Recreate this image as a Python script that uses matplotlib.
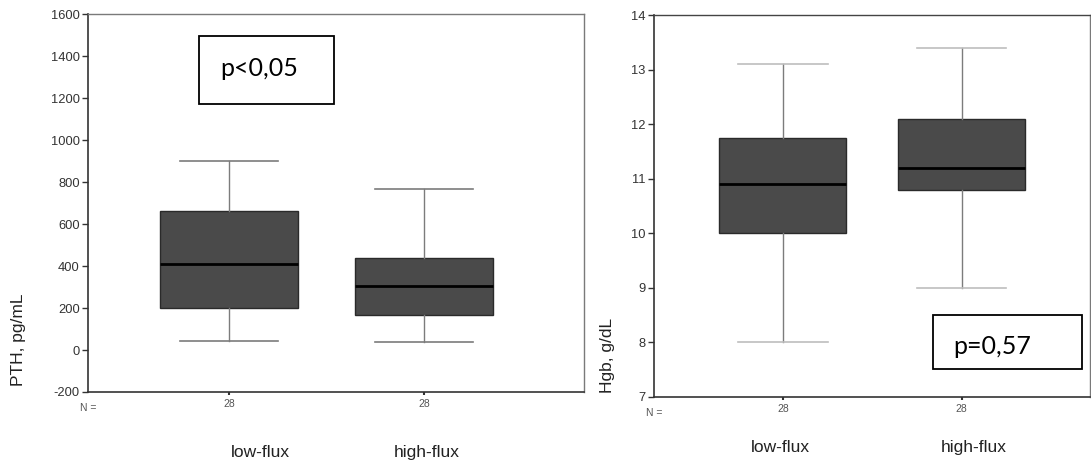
import matplotlib
matplotlib.use("Agg")
import matplotlib.pyplot as plt
from matplotlib.patches import Rectangle

groups = ["low-flux", "high-flux"]
n_counts = [28, 28]

# PTH, pg/mL: whisker low, Q1, median, Q3, whisker high
pth_low = [45, 202, 408, 662, 899]
pth_high = [40, 168, 304, 439, 767]

# Hgb, g/dL
hgb_low = [8.0, 10.0, 10.9, 11.74, 13.11]
hgb_high = [9.0, 10.8, 11.2, 12.1, 13.4]

pth_ticks = [-200, 0, 200, 400, 600, 800, 1000, 1200, 1400, 1600]
hgb_ticks = [7, 8, 9, 10, 11, 12, 13, 14]

TICK_FONT = ["Liberation Sans", "DejaVu Sans"]
BOX_FONT = ["Lato", "DejaVu Sans"]


def stats(vals, label):
    lo, q1, med, q3, hi = vals
    return {"whislo": lo, "q1": q1, "med": med, "q3": q3, "whishi": hi,
            "fliers": [], "label": label}


def draw_panel(ax, rows, ticks, xlim, cap_color):
    ax.bxp([stats(r, str(n)) for r, n in zip(rows, n_counts)],
           positions=[1, 2], widths=0.71, patch_artist=True, showfliers=False,
           boxprops=dict(facecolor="#4a4a4a", edgecolor="#2a2a2a", linewidth=1.0),
           medianprops=dict(color="#000000", linewidth=2.0),
           whiskerprops=dict(color="#7c7c7c", linewidth=1.0),
           capprops=dict(color=cap_color, linewidth=1.2),
           capwidths=0.5)
    ax.set_xlim(*xlim)
    ax.set_ylim(ticks[0], ticks[-1])
    ax.set_yticks(ticks)
    ax.set_yticklabels([str(t) for t in ticks], fontsize=9.3,
                       family=TICK_FONT, color="#333333")
    ax.set_xticks([1, 2])
    ax.set_xticklabels([str(n) for n in n_counts], fontsize=7.5,
                       family=TICK_FONT, color="#555555")
    ax.tick_params(axis="y", length=4, width=1, color="#333333", pad=2)
    ax.tick_params(axis="x", length=2, width=1.5, color="#333333", pad=3)
    for side in ["left", "bottom"]:
        ax.spines[side].set_color("#333333")
        ax.spines[side].set_linewidth(1.2)
    for side in ["top", "right"]:
        ax.spines[side].set_color("#7a7a7a")
        ax.spines[side].set_linewidth(1.0)
    ax.text(0, -0.028, "N =", transform=ax.transAxes, ha="center", va="top",
            fontsize=7.5, family=TICK_FONT, color="#555555")


fig = plt.figure(figsize=(10.91, 4.72), dpi=100)

ax1 = fig.add_axes([0.0807, 0.1695, 0.4546, 0.800])
draw_panel(ax1, [pth_low, pth_high], pth_ticks, (0.277, 2.82), "#7c7c7c")
fig.text(0.0165, 0.280, "PTH, pg/mL", rotation=90, ha="center", va="center",
         fontsize=12.5, family=TICK_FONT, color="#222222")
for x, name in zip([1.159, 2.015], groups):
    ax1.text(x, -0.159, name, transform=ax1.get_xaxis_transform(),
             ha="center", va="center", fontsize=12.5, family=TICK_FONT,
             color="#222222")
ax1.add_patch(Rectangle((199 / 1091, 1 - 104 / 472), 135 / 1091, 68 / 472,
                        transform=fig.transFigure, fill=False,
                        edgecolor="#000000", linewidth=1.3, clip_on=False))
fig.text(220 / 1091, 1 - 68 / 472, "p<0,05", ha="left", va="center",
         fontsize=18, family=BOX_FONT, color="#000000")

ax2 = fig.add_axes([0.5995, 0.1589, 0.4000, 0.8093])
draw_panel(ax2, [hgb_low, hgb_high], hgb_ticks, (0.28, 2.72), "#bdbdbd")
ax2.spines["top"].set_color("#444444")
fig.text(0.5564, 0.248, "Hgb, g/dL", rotation=90, ha="center", va="center",
         fontsize=12.5, family=TICK_FONT, color="#222222")
for x, name in zip([0.984, 2.07], groups):
    ax2.text(x, -0.131, name, transform=ax2.get_xaxis_transform(),
             ha="center", va="center", fontsize=12.5, family=TICK_FONT,
             color="#222222")
ax2.add_patch(Rectangle((933 / 1091, 1 - 369 / 472), 149 / 1091, 54 / 472,
                        transform=fig.transFigure, fill=False,
                        edgecolor="#000000", linewidth=1.3, clip_on=False))
fig.text(953 / 1091, 1 - 347 / 472, "p=0,57", ha="left", va="center",
         fontsize=18, family=BOX_FONT, color="#000000")

fig.savefig("out.png", dpi=100)
